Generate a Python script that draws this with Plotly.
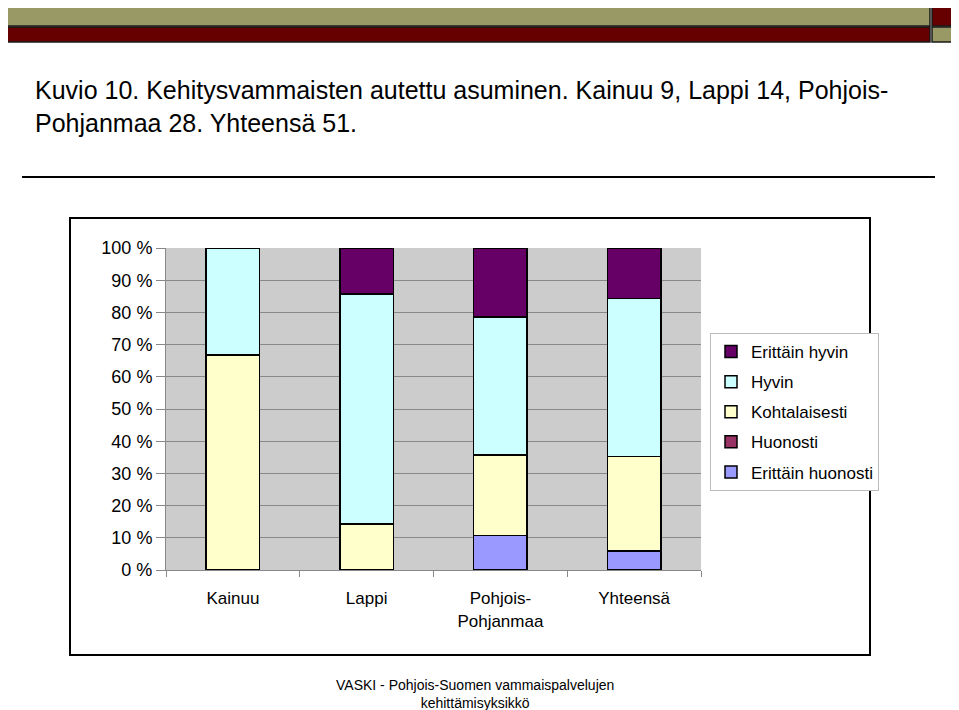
import plotly.graph_objects as go

categories = ["Kainuu", "Lappi", "Pohjois-<br>Pohjanmaa", "Yhteensä"]
series_names = ["Erittäin huonosti", "Huonosti", "Kohtalaisesti", "Hyvin", "Erittäin hyvin"]
erittain_huonosti = [0.0, 0.0, 10.7, 5.9]
huonosti = [0.0, 0.0, 0.0, 0.0]
kohtalaisesti = [66.7, 14.3, 25.0, 29.4]
hyvin = [33.3, 71.4, 42.9, 49.0]
erittain_hyvin = [0.0, 14.3, 21.4, 15.7]
y_ticks = [0, 10, 20, 30, 40, 50, 60, 70, 80, 90, 100]
y_tick_labels = [f"{v} %" for v in y_ticks]

values = [erittain_huonosti, huonosti, kohtalaisesti, hyvin, erittain_hyvin]
colors = ["#9999FF", "#993366", "#FFFFCC", "#CCFFFF", "#660066"]

OFF = 8  # page body margin
W, H = 959 - OFF, 710 - OFF
L, R, T, B = 166 - OFF, 701 - OFF, 248 - OFF, 570 - OFF
FONT = "Liberation Sans, Arial, sans-serif"

def px(x):
    return (x - OFF - L) / (R - L)

def py(y):
    return (B - (y - OFF)) / (B - T)

fig = go.Figure()
for i, (name, vals, col) in enumerate(zip(series_names, values, colors)):
    fig.add_trace(go.Bar(
        x=categories, y=vals, name=name, legendgroup=name,
        legendrank=1000 - i,
        marker=dict(color=col, line=dict(color="black", width=1.5)),
        width=0.4,
    ))

shapes = []
shapes.append(dict(type="rect", xref="paper", yref="paper", x0=px(3), x1=px(930), y0=py(26), y1=py(3),
                   fillcolor="#999966", line=dict(color="#1a1a1a", width=1.5), layer="above"))
shapes.append(dict(type="rect", xref="paper", yref="paper", x0=px(932), x1=px(957), y0=py(26), y1=py(3),
                   fillcolor="#660000", line=dict(color="#1a1a1a", width=1.5), layer="above"))
shapes.append(dict(type="rect", xref="paper", yref="paper", x0=px(3), x1=px(930), y0=py(42), y1=py(27),
                   fillcolor="#660000", line=dict(color="#1a1a1a", width=1.5), layer="above"))
shapes.append(dict(type="rect", xref="paper", yref="paper", x0=px(932), x1=px(957), y0=py(42), y1=py(27),
                   fillcolor="#999966", line=dict(color="#1a1a1a", width=1.5), layer="above"))
shapes.append(dict(type="line", xref="paper", yref="paper", x0=px(22), x1=px(935), y0=py(177), y1=py(177),
                   line=dict(color="black", width=2)))
shapes.append(dict(type="rect", xref="paper", yref="paper", x0=px(70), x1=px(870), y0=py(655), y1=py(218),
                   line=dict(color="black", width=2), layer="below"))

annotations = [
    dict(text="Kuvio 10. Kehitysvammaisten autettu asuminen. Kainuu 9, Lappi 14, Pohjois-<br>Pohjanmaa 28. Yhteensä 51.",
         xref="paper", yref="paper", x=px(33), y=py(74), xanchor="left", yanchor="top", align="left",
         showarrow=False, font=dict(family=FONT, size=25, color="black")),
    dict(text="VASKI - Pohjois-Suomen vammaispalvelujen<br>kehittämisyksikkö",
         xref="paper", yref="paper", x=px(475), y=py(675), xanchor="center", yanchor="top", align="center",
         showarrow=False, font=dict(family=FONT, size=14, color="black")),
]

fig.update_layout(
    width=W, height=H,
    margin=dict(l=L, r=W - R, t=T, b=H - B, pad=0),
    barmode="stack",
    paper_bgcolor="white",
    plot_bgcolor="#CCCCCC",
    font=dict(family=FONT, size=17, color="black"),
    showlegend=True,
    legend=dict(
        x=px(710), y=py(333), xanchor="left", yanchor="top",
        bgcolor="white", bordercolor="#BBBBBB", borderwidth=1,
        traceorder="grouped",
        font=dict(family=FONT, size=17, color="black"),
        itemwidth=30,
        tracegroupgap=5,
    ),
    shapes=shapes,
    annotations=annotations,
    xaxis=dict(
        type="category",
        tickson="boundaries",
        ticks="outside", ticklen=6, tickcolor="#888888",
        showline=True, linecolor="#888888", linewidth=1,
        showgrid=False,
        ticklabelstandoff=13,
        tickfont=dict(family=FONT, size=17, color="black"),
        fixedrange=True,
    ),
    yaxis=dict(
        range=[0, 100],
        tickvals=y_ticks, ticktext=y_tick_labels,
        ticks="outside", ticklen=9, tickcolor="#888888",
        showline=True, linecolor="#888888", linewidth=1,
        showgrid=True, gridcolor="#888888", gridwidth=1,
        zeroline=False,
        tickfont=dict(family=FONT, size=18, color="black"),
        fixedrange=True,
    ),
)

fig.write_html("out.html")
